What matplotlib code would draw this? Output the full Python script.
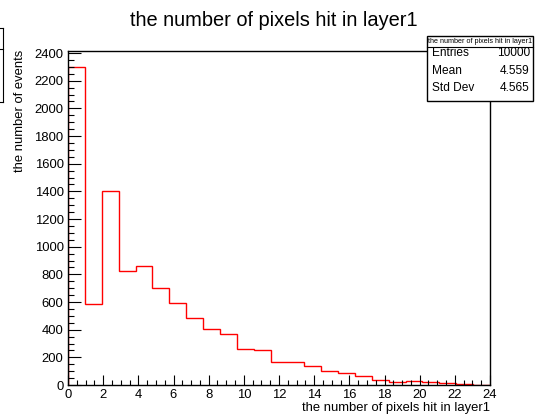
import matplotlib
matplotlib.use("Agg")
import matplotlib.pyplot as plt
from matplotlib.patches import Rectangle
from matplotlib.lines import Line2D
import numpy as np

plt.rcParams['font.family'] = ['Liberation Sans', 'DejaVu Sans']

# ---- data ----
x_min, x_max, n_bins = 0.0, 24.0, 25
counts = [2300, 585, 1405, 822, 862, 700, 594, 485, 403, 367, 263, 252,
          166, 169, 135, 100, 89, 65, 34, 24, 31, 22, 16, 10, 0]
title = "the number of pixels hit in layer1"
x_title = "the number of pixels hit in layer1"
y_title = "the number of events"
stats_title = "the number of pixels hit in layer1"
stats_names = ["Entries", "Mean", "Std Dev"]
stats_values = ["10000", "4.559", "4.565"]
x_ticks = [0, 2, 4, 6, 8, 10, 12, 14, 16, 18, 20, 22, 24]
y_ticks = [0, 200, 400, 600, 800, 1000, 1200, 1400, 1600, 1800, 2000, 2200, 2400]

W, H = 535, 418
fig = plt.figure(figsize=(W / 100, H / 100), dpi=100)

def fx(px):
    return px / W

def fy(py):
    return 1 - py / H

L, R, T, B = 68, 490, 51, 385
ax = fig.add_axes([fx(L), fy(B), fx(R) - fx(L), fy(T) - fy(B)])

edges = np.linspace(x_min, x_max, n_bins + 1)
ax.stairs(counts, edges, color='#ff0000', linewidth=1.0, baseline=0)

ax.set_xlim(x_min, x_max)
ax.set_ylim(0, 2415)
ax.set_xticks(x_ticks)
ax.set_yticks(y_ticks)
ax.set_xticks(np.arange(0, 24.01, 0.5), minor=True)
ax.set_yticks(np.arange(0, 2415, 50), minor=True)
ax.tick_params(axis='both', which='both', direction='in', top=False, right=False,
               labelsize=9.4, colors='black', width=0.8)
ax.tick_params(axis='x', which='major', length=7.2, pad=3)
ax.tick_params(axis='x', which='minor', length=3.6)
ax.tick_params(axis='y', which='major', length=9.1, pad=3.2)
ax.tick_params(axis='y', which='minor', length=4.5)
for s in ax.spines.values():
    s.set_linewidth(1.0)
    s.set_color('black')

# titles
fig.text(fx(274), fy(20), title, ha='center', va='center', fontsize=14.4)
fig.text(fx(490), fy(408), x_title, ha='right', va='center', fontsize=9.4)
fig.text(fx(20), fy(50), y_title, ha='center', va='top', rotation=90, fontsize=9.4)

# stats box
bx0, by0, bx1, by1 = 427, 36, 533, 101
fig.patches.append(Rectangle((fx(bx0), fy(by1)), fx(bx1) - fx(bx0), fy(by0) - fy(by1),
                             transform=fig.transFigure, facecolor='white',
                             edgecolor='black', linewidth=1.0, zorder=5))
fig.lines.append(Line2D([fx(bx0), fx(bx1)], [fy(46.5), fy(46.5)], transform=fig.transFigure,
                        color='black', linewidth=0.8, zorder=6))
fig.text(fx((bx0 + bx1) / 2), fy(41.3), stats_title, ha='center', va='center',
         fontsize=5.2, zorder=7)
row_y = [52.5, 70.5, 88.3]
for name, val, yy in zip(stats_names, stats_values, row_y):
    fig.text(fx(432), fy(yy), name, ha='left', va='center', fontsize=8.6, zorder=7)
    fig.text(fx(530), fy(yy), val, ha='right', va='center', fontsize=8.6, zorder=7)

# partially visible box at the left edge
for xs, ys in [([2.7, 2.7], [28, 102]), ([0, 2.7], [28, 28]),
               ([0, 2.7], [49, 49]), ([0, 2.7], [102, 102])]:
    fig.lines.append(Line2D([fx(v) for v in xs], [fy(v) for v in ys],
                            transform=fig.transFigure, color='black', linewidth=0.8))

fig.savefig("out.png", dpi=100)
